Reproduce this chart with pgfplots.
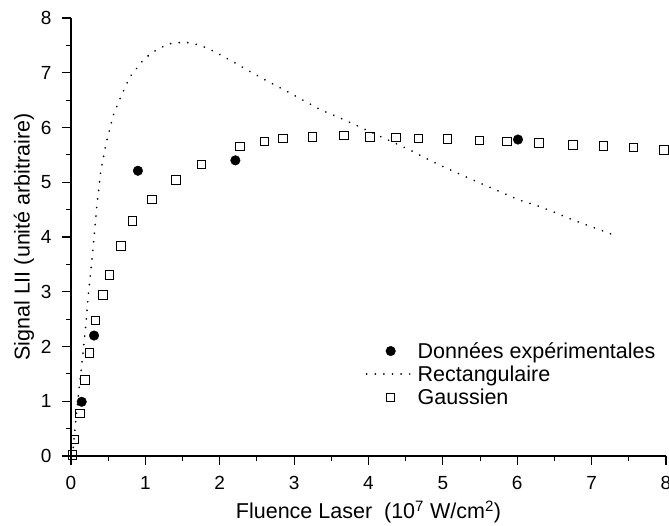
\documentclass[border=0pt]{standalone}
\usepackage{fontspec}
\setmainfont{Liberation Sans}
\usepackage{pgfplots}
\pgfplotsset{compat=1.18}
\begin{document}
\begin{tikzpicture}
\begin{axis}[
  scale only axis, width=595bp, height=438bp,
  xmin=0, xmax=8, ymin=0, ymax=8,
  axis lines*=left,
  axis line style={line width=1.2bp},
  xtick={0,...,8}, ytick={0,...,8},
  minor x tick num=1, minor y tick num=1,
  tick align=outside,
  major tick length=9bp, minor tick length=5bp,
  tick style={line width=1.1bp, black},
  /pgf/number format/assume math mode=true,
  tick label style={font=\fontsize{19bp}{22bp}\selectfont},
  yticklabel style={xshift=-7bp},
  xticklabel style={yshift=-8bp},
  label style={font=\fontsize{21.5bp}{26bp}\selectfont},
  xlabel={Fluence Laser\ \ (10\textsuperscript{7} W/cm\textsuperscript{2})},
  ylabel={Signal LII (unité arbitraire)},
  xlabel style={yshift=-4bp},
  clip=false,
  legend style={draw=none, fill=none, font=\fontsize{21.5bp}{24bp}\selectfont,
    at={(0.49,0.187)}, anchor=west, row sep=2bp},
  legend cell align=left,
  legend image code/.code={\draw[mark repeat=2,mark phase=2,#1] plot coordinates {(0bp,0bp) (24bp,0bp) (48bp,0bp)};},
]
\addplot[only marks, mark=*, mark size=4.8bp, black] coordinates {
  (0.144,0.99) (0.31,2.20) (0.90,5.21) (2.21,5.40) (6.01,5.78)
};
\addlegendentry{Données expérimentales}
\addplot[black, line width=1.9bp, line cap=round, dash pattern=on 0.01bp off 8.6bp] coordinates {
  (0.02,0) (0.05,0.45) (0.08,0.85) (0.11,1.25) (0.14,1.6) (0.17,2.0) (0.2,2.4)
  (0.23,2.9) (0.26,3.3) (0.29,3.7) (0.35,4.6) (0.40,5.2) (0.47,5.7) (0.57,6.23)
  (0.67,6.56) (0.79,6.92) (0.97,7.23) (1.09,7.37) (1.21,7.46) (1.33,7.53)
  (1.45,7.55) (1.58,7.55) (1.71,7.51) (1.83,7.45) (1.95,7.37) (2.18,7.2)
  (2.41,7.02) (2.65,6.84) (2.89,6.67) (3.13,6.49) (3.36,6.32) (3.61,6.18)
  (3.85,6.03) (4.09,5.88) (4.33,5.73) (4.57,5.58) (4.81,5.41) (5.06,5.25)
  (5.29,5.11) (5.54,4.96) (5.78,4.82) (6.02,4.68) (6.27,4.57) (6.50,4.45)
  (6.75,4.31) (6.99,4.19) (7.23,4.07) (7.35,4.01)
};
\addlegendentry{Rectangulaire}
\addplot[only marks, mark=square, mark size=4.2bp, black, mark options={line width=0.9bp, fill=white}] coordinates {
  (0.02,0.02) (0.05,0.30) (0.12,0.78) (0.19,1.39) (0.25,1.88) (0.33,2.48)
  (0.43,2.94) (0.52,3.31) (0.67,3.84) (0.83,4.29) (1.09,4.69) (1.41,5.04)
  (1.75,5.33) (2.27,5.65) (2.60,5.75) (2.85,5.80) (3.25,5.83) (3.67,5.85)
  (4.02,5.83) (4.37,5.82) (4.67,5.80) (5.06,5.79) (5.49,5.76) (5.86,5.75)
  (6.29,5.72) (6.75,5.68) (7.16,5.66) (7.56,5.63) (7.97,5.59)
};
\addlegendentry{Gaussien}
\end{axis}
\pgfresetboundingbox
\path ([xshift=-71bp,yshift=-70bp]current axis.south west) rectangle ([xshift=3bp,yshift=18bp]current axis.north east);
\end{tikzpicture}
\end{document}
